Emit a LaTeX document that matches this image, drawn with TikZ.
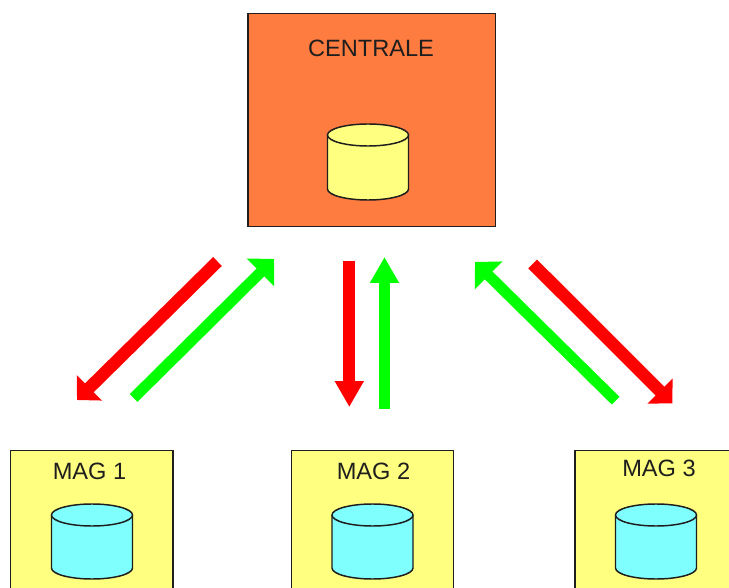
\documentclass[tikz,border=0pt]{standalone}
\usepackage{fontspec}
\setmainfont{Liberation Sans}
\usetikzlibrary{arrows.meta}
\definecolor{orangebox}{RGB}{255,124,64}
\definecolor{yellowbox}{RGB}{255,255,128}
\definecolor{cyanbox}{RGB}{128,255,255}
\definecolor{redarrow}{RGB}{255,0,0}
\definecolor{greenarrow}{RGB}{0,255,0}
\definecolor{inkline}{RGB}{30,30,30}
\tikzset{
  box/.style={draw=inkline,line width=1pt},
  cyl/.style={draw=inkline,line width=1.1pt,line join=round},
  lbl/.style={inner sep=0pt,text=inkline,font=\fontsize{17.7pt}{20pt}\selectfont},
  reddiag/.style={draw=redarrow,line width=9.3pt,-{Triangle[length=13pt,width=26pt]}},
  greendiag/.style={draw=greenarrow,line width=8.2pt,-{Triangle[length=14.3pt,width=28.5pt]}},
  redvert/.style={draw=redarrow,line width=9pt,-{Triangle[length=19.5pt,width=20.6pt]}},
  greenvert/.style={draw=greenarrow,line width=7.8pt,-{Triangle[length=19.5pt,width=20.6pt]}}
}
\newcommand{\cylinder}[5]{% x left, x right, y top centre, y bottom centre, fill
  \filldraw[cyl,fill=#5] (#1,#3) -- (#1,#4) arc[start angle=180,end angle=0,x radius={(#2-#1)/2},y radius=11] -- (#2,#3);
  \filldraw[cyl,fill=#5] ({(#1+#2)/2},#3) ellipse[x radius={(#2-#1)/2},y radius=11];
}
\begin{document}
\begin{tikzpicture}[x=0.75pt,y=-0.75pt]
\useasboundingbox (0,0) rectangle (729,588);
\begin{scope}
\clip (0,0) rectangle (729,588);
\draw[box,fill=orangebox] (248,13.5) rectangle (495.5,226.5);
\draw[box,fill=yellowbox] (10.5,450.5) rectangle (173,600);
\draw[box,fill=yellowbox] (291.5,450.5) rectangle (453.5,600);
\draw[box,fill=yellowbox] (575,450.5) rectangle (737,600);
\cylinder{327.5}{408.5}{135}{189}{yellowbox}
\cylinder{51.5}{132.5}{515}{568}{cyanbox}
\cylinder{332}{413}{515}{568}{cyanbox}
\cylinder{615.5}{696.5}{515}{568}{cyanbox}
\end{scope}
\node[lbl] (centrale) at (371,48) {CENTRALE};
\node[lbl] (mag1) at (89.5,471.5) {MAG 1};
\node[lbl] (mag2) at (373.5,471.5) {MAG 2};
\node[lbl] (mag3) at (659,468) {MAG 3};
\coordinate (r1a) at (217.5,261.5);
\coordinate (r1b) at (77,400);
\coordinate (g1a) at (133.6,398);
\coordinate (g1b) at (274,259);
\coordinate (r2a) at (349.3,260.7);
\coordinate (r2b) at (349.3,407);
\coordinate (g2a) at (384.5,409);
\coordinate (g2b) at (384.5,257);
\coordinate (r3a) at (532.7,264);
\coordinate (r3b) at (672.3,403.3);
\coordinate (g3a) at (615.7,400.7);
\coordinate (g3b) at (475,262);
\draw[reddiag] (r1a) -- (r1b);
\draw[greendiag] (g1a) -- (g1b);
\draw[redvert] (r2a) -- (r2b);
\draw[greenvert] (g2a) -- (g2b);
\draw[reddiag] (r3a) -- (r3b);
\draw[greendiag] (g3a) -- (g3b);
\end{tikzpicture}
\end{document}
